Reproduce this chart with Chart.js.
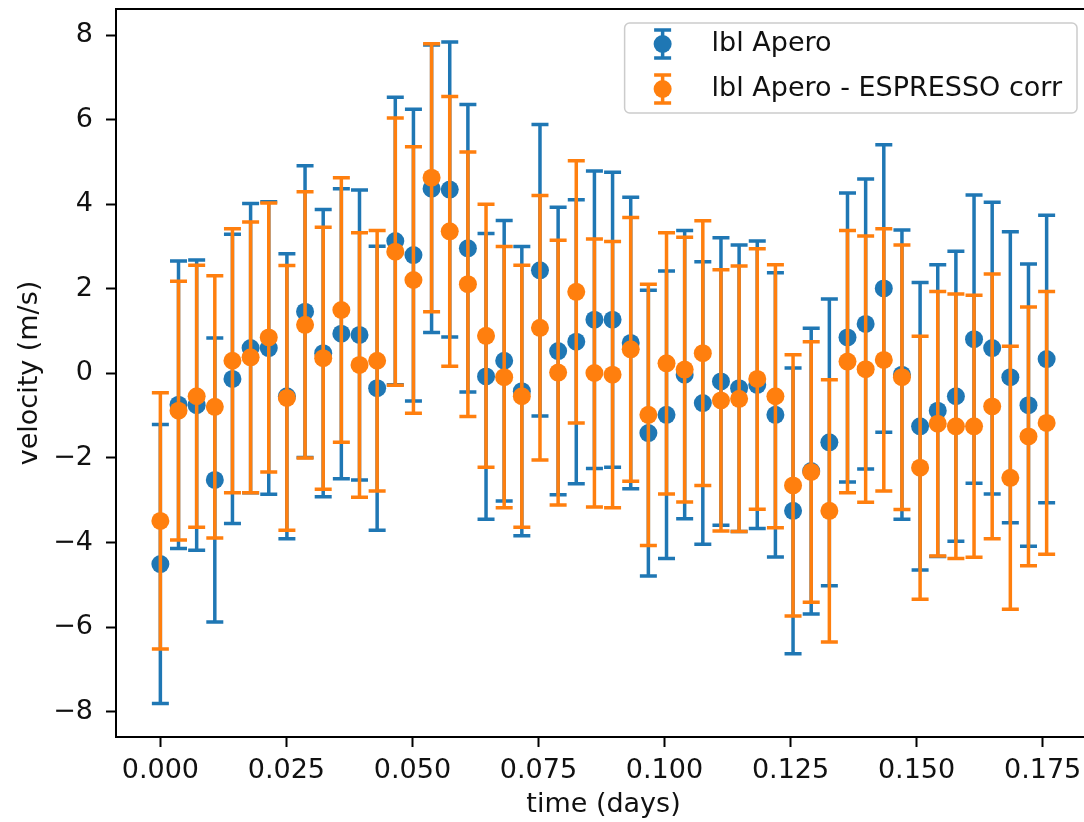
<!DOCTYPE html>
<html lang="en">
<head>
<meta charset="UTF-8" />
<title>velocity vs time</title>
<script src="https://cdn.jsdelivr.net/npm/chart.js"></script>
<style>
  html, body { margin: 0; padding: 0; background: #fff; overflow: hidden; }
  #chart { display: block; }
</style>
</head>
<body>
<canvas id="chart" width="1100" height="822"></canvas>
<script>
// time of each exposure (days)
const times = [
  0.0000, 0.0036, 0.0072, 0.0108, 0.0143, 0.0179, 0.0215, 0.0251, 0.0287, 0.0323,
  0.0359, 0.0395, 0.0430, 0.0466, 0.0502, 0.0538, 0.0574, 0.0610, 0.0646, 0.0682,
  0.0717, 0.0753, 0.0789, 0.0825, 0.0861, 0.0897, 0.0933, 0.0968, 0.1004, 0.1040,
  0.1076, 0.1112, 0.1148, 0.1184, 0.1220, 0.1255, 0.1291, 0.1327, 0.1363, 0.1399,
  0.1435, 0.1471, 0.1507, 0.1542, 0.1578, 0.1614, 0.1650, 0.1686, 0.1722, 0.1758
];
// lbl Apero velocities and errors (m/s)
const aperoRv = [
  -4.51, -0.74, -0.75, -2.52, -0.13, 0.60, 0.60, -0.54, 1.46, 0.48,
  0.94, 0.91, -0.35, 3.13, 2.80, 4.37, 4.35, 2.96, -0.07, 0.30,
  -0.42, 2.44, 0.53, 0.75, 1.27, 1.27, 0.72, -1.41, -0.98, -0.03,
  -0.70, -0.19, -0.35, -0.27, -0.98, -3.25, -2.31, -1.63, 0.85, 1.17,
  2.01, -0.03, -1.25, -0.88, -0.54, 0.81, 0.60, -0.09, -0.75, 0.34
];
const aperoErr = [
  3.30, 3.40, 3.43, 3.36, 3.42, 3.42, 3.46, 3.37, 3.45, 3.40,
  3.43, 3.43, 3.36, 3.40, 3.45, 3.40, 3.49, 3.40, 3.38, 3.32,
  3.42, 3.45, 3.40, 3.36, 3.52, 3.49, 3.45, 3.38, 3.40, 3.41,
  3.34, 3.40, 3.39, 3.40, 3.36, 3.38, 3.38, 3.39, 3.42, 3.43,
  3.40, 3.42, 3.40, 3.45, 3.43, 3.41, 3.45, 3.44, 3.34, 3.40
];
// lbl Apero - ESPRESSO corr
const corrRv = [
  -3.49, -0.88, -0.54, -0.79, 0.30, 0.38, 0.85, -0.58, 1.15, 0.36,
  1.50, 0.20, 0.30, 2.88, 2.21, 4.63, 3.36, 2.11, 0.89, -0.09,
  -0.54, 1.08, 0.02, 1.93, 0.01, -0.03, 0.57, -0.98, 0.24, 0.09,
  0.48, -0.64, -0.60, -0.13, -0.54, -2.65, -2.33, -3.25, 0.28, 0.10,
  0.32, -0.09, -2.23, -1.19, -1.25, -1.25, -0.78, -2.47, -1.49, -1.17
];
const corrErr = [
  3.03, 3.06, 3.10, 3.10, 3.12, 3.20, 3.18, 3.13, 3.15, 3.10,
  3.13, 3.13, 3.08, 3.16, 3.15, 3.17, 3.19, 3.13, 3.11, 3.09,
  3.10, 3.13, 3.13, 3.10, 3.17, 3.15, 3.12, 3.09, 3.09, 3.13,
  3.13, 3.09, 3.14, 3.08, 3.11, 3.09, 3.08, 3.10, 3.10, 3.15,
  3.10, 3.13, 3.11, 3.13, 3.13, 3.10, 3.13, 3.11, 3.06, 3.11
];
const xTicks = [0, 0.025, 0.05, 0.075, 0.1, 0.125, 0.15, 0.175];
const yTicks = [-8, -6, -4, -2, 0, 2, 4, 6, 8];
const seriesNames = ['lbl Apero', 'lbl Apero - ESPRESSO corr'];

const BLUE = '#1f77b4';
const ORANGE = '#ff7f0e';
const FONT = '"DejaVu Sans", sans-serif';
const FONT_SIZE = 27;
const CAP = 8.5;

Chart.defaults.font.family = FONT;
Chart.defaults.font.size = FONT_SIZE;
Chart.defaults.color = '#111';

function toPoints(xs, ys, errs) {
  return xs.map((t, i) => ({ x: t, y: ys[i], err: errs[i] }));
}

// vertical error bars with caps, drawn just before each dataset's markers
const errorBars = {
  id: 'errorBars',
  beforeDatasetDraw(chart, args) {
    const ds = chart.data.datasets[args.index];
    const { ctx, chartArea, scales: { x, y } } = chart;
    ctx.save();
    ctx.beginPath();
    ctx.rect(chartArea.left, chartArea.top, chartArea.width, chartArea.height);
    ctx.clip();
    ctx.strokeStyle = ds.backgroundColor;
    ctx.lineWidth = 3.5;
    ds.data.forEach(p => {
      const px = x.getPixelForValue(p.x);
      const hi = y.getPixelForValue(p.y + p.err);
      const lo = y.getPixelForValue(p.y - p.err);
      ctx.beginPath();
      ctx.moveTo(px, hi); ctx.lineTo(px, lo);
      ctx.moveTo(px - CAP, hi); ctx.lineTo(px + CAP, hi);
      ctx.moveTo(px - CAP, lo); ctx.lineTo(px + CAP, lo);
      ctx.stroke();
    });
    ctx.restore();
  }
};

// axes frame + matplotlib-like legend box
const frameAndLegend = {
  id: 'frameAndLegend',
  afterDraw(chart) {
    const { ctx, chartArea } = chart;
    ctx.save();
    ctx.strokeStyle = '#000';
    ctx.lineWidth = 2;
    ctx.strokeRect(chartArea.left, chartArea.top, chartArea.width, chartArea.height);

    ctx.font = FONT_SIZE + 'px ' + FONT;
    const sets = chart.data.datasets;
    const textW = Math.max(...sets.map(d => ctx.measureText(d.label).width));
    const right = chartArea.right - 14;
    const top = chartArea.top + 14;
    const width = textW + 102;
    const height = 90;
    const left = right - width;
    ctx.beginPath();
    ctx.roundRect(left, top, width, height, 5);
    ctx.fillStyle = 'rgba(255,255,255,0.8)';
    ctx.fill();
    ctx.lineWidth = 1.5;
    ctx.strokeStyle = '#cccccc';
    ctx.stroke();

    sets.forEach((d, i) => {
      const cy = top + 21 + i * 45;
      const cx = left + 38;
      ctx.strokeStyle = d.backgroundColor;
      ctx.lineWidth = 3.5;
      ctx.beginPath();
      ctx.moveTo(cx, cy - 14); ctx.lineTo(cx, cy + 14);
      ctx.moveTo(cx - CAP, cy - 14); ctx.lineTo(cx + CAP, cy - 14);
      ctx.moveTo(cx - CAP, cy + 14); ctx.lineTo(cx + CAP, cy + 14);
      ctx.stroke();
      ctx.fillStyle = d.backgroundColor;
      ctx.beginPath();
      ctx.arc(cx, cy, 9, 0, Math.PI * 2);
      ctx.fill();
      ctx.fillStyle = '#111';
      ctx.textBaseline = 'middle';
      ctx.textAlign = 'left';
      ctx.fillText(d.label, left + 87, cy);
    });
    ctx.restore();
  }
};

const ctx = document.getElementById('chart').getContext('2d');
new Chart(ctx, {
  type: 'scatter',
  data: {
    datasets: [
      {
        label: seriesNames[0],
        data: toPoints(times, aperoRv, aperoErr),
        backgroundColor: BLUE,
        borderColor: BLUE,
        order: 2
      },
      {
        label: seriesNames[1],
        data: toPoints(times, corrRv, corrErr),
        backgroundColor: ORANGE,
        borderColor: ORANGE,
        order: 1
      }
    ]
  },
  options: {
    responsive: false,
    animation: false,
    events: [],
    devicePixelRatio: 1,
    elements: {
      point: { radius: 9, hoverRadius: 9, borderWidth: 0 }
    },
    layout: { padding: { top: 8, right: 4, left: 0, bottom: 0 } },
    plugins: {
      legend: { display: false },
      tooltip: { enabled: false }
    },
    scales: {
      x: {
        type: 'linear',
        min: -0.0088,
        max: 0.1846,
        afterBuildTicks: s => { s.ticks = xTicks.map(v => ({ value: v })); },
        afterFit: s => { s.height = 85; s.paddingLeft = 0; s.paddingRight = 0; },
        ticks: {
          padding: 8,
          color: '#111',
          callback: v => v.toFixed(3)
        },
        grid: { display: true, drawOnChartArea: false, tickLength: 10, tickWidth: 2, tickColor: '#000' },
        border: { display: false },
        title: { display: true, text: 'time (days)', color: '#111', padding: { top: 0, bottom: 1 } }
      },
      y: {
        type: 'linear',
        min: -8.6,
        max: 8.62,
        afterBuildTicks: s => { s.ticks = yTicks.map(v => ({ value: v })); },
        afterFit: s => { s.width = 116; s.paddingTop = 0; s.paddingBottom = 0; },
        ticks: {
          padding: 13,
          color: '#111',
          callback: v => (v < 0 ? '\u2212' + Math.abs(v) : String(v))
        },
        grid: { display: true, drawOnChartArea: false, tickLength: 10, tickWidth: 2, tickColor: '#000' },
        border: { display: false },
        title: { display: true, text: 'velocity (m/s)', color: '#111', padding: { top: 14, bottom: 0 } }
      }
    }
  },
  plugins: [errorBars, frameAndLegend]
});
</script>
</body>
</html>
